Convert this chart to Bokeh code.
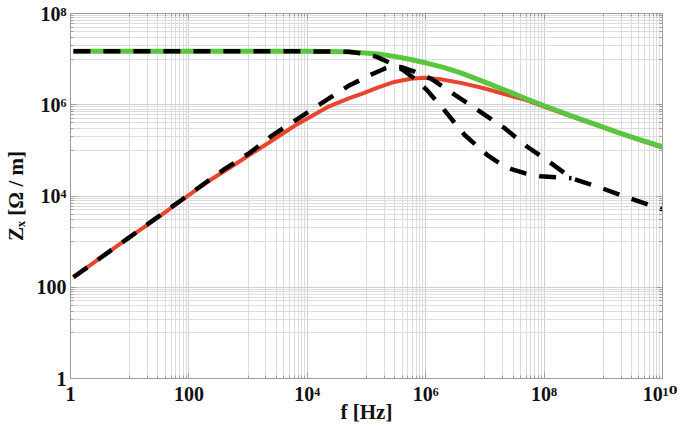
import math
from bokeh.plotting import figure
from bokeh.models import LogAxis, FixedTicker, Range1d, CustomJSTickFormatter
from bokeh.embed import file_html
from bokeh.resources import INLINE

# ---- data ----
f_green = [1.12, 100, 1e4, 4.0e4, 8.3e4, 1.58e5, 2.95e5, 5.6e5, 1.07e6, 2.0e6, 3.9e6,
           7.4e6, 1.41e7, 2.6e7, 5.0e7, 1.0e8, 2.0e8, 4.0e8, 8.5e8, 1.8e9, 4.0e9, 1.0e10]
z_green = [1.48e7, 1.48e7, 1.48e7, 1.46e7, 1.38e7, 1.29e7, 1.15e7, 9.8e6, 8.1e6, 6.6e6, 5.0e6,
           3.63e6, 2.63e6, 1.91e6, 1.35e6, 9.5e5, 6.8e5, 4.9e5, 3.47e5, 2.45e5, 1.74e5, 1.2e5]

f_red = [1.12, 3.16, 10, 31.6, 70.8, 200, 490, 1000, 2290, 6310, 2.29e4, 5.0e4, 8.3e4,
         1.58e5, 2.95e5, 5.6e5, 9.5e5, 1.78e6, 3.9e6, 7.9e6, 1.41e7, 2.8e7, 5.0e7, 1.0e8,
         2.5e8, 6.3e8, 1.58e9, 4.0e9, 1.0e10]
z_red = [166, 437, 1259, 3548, 7586, 2.0e4, 4.17e4, 7.59e4, 1.51e5, 3.55e5, 9.12e5, 1.38e6,
         1.74e6, 2.4e6, 3.16e6, 3.72e6, 3.89e6, 3.63e6, 3.02e6, 2.45e6, 2.0e6, 1.55e6, 1.26e6,
         9.1e5, 5.9e5, 3.9e5, 2.57e5, 1.7e5, 1.15e5]

f_dash_a = [1.12, 100, 1e4, 5.0e4, 1.0e5, 1.48e5, 2.5e5, 4.3e5, 7.1e5, 1.05e6, 2.2e6, 4.6e6,
            1.1e7, 1.78e7, 2.8e7, 5.0e7, 8.7e7, 1.58e8, 2.9e8]
z_dash_a = [1.48e7, 1.48e7, 1.48e7, 1.45e7, 1.29e7, 1.12e7, 8.3e6, 5.6e6, 3.39e6, 2.09e6,
            6.9e5, 2.14e5, 7.9e4, 5.2e4, 3.9e4, 3.1e4, 2.7e4, 2.57e4, 2.45e4]

f_dash_b = [1.12, 10, 70.8, 200, 380, 1050, 2570, 6310, 1.78e4, 4.9e4, 1.29e5, 2.0e5, 2.8e5,
            4.0e5, 6.3e5, 1.23e6, 3.16e6, 8.3e6, 2.19e7, 5.2e7, 1.38e8, 2.9e8, 9.1e8, 2.4e9,
            7.6e9, 1.0e10]
z_dash_b = [166, 1259, 7762, 2.04e4, 3.72e4, 8.7e4, 2.14e5, 4.57e5, 1.1e6, 2.57e6, 4.79e6,
            6.17e6, 6.92e6, 6.61e6, 5.37e6, 3.72e6, 1.62e6, 7.1e5, 3.02e5, 1.2e5, 5.0e4,
            2.45e4, 1.51e4, 9.5e3, 5.75e3, 5.1e3]

x_ticks = [1, 100, 1e4, 1e6, 1e8, 1e10]
x_tick_labels = ["1", "100", "10\u2074", "10\u2076", "10\u2078", "10\u00b9\u2070"]
y_ticks = [1, 100, 1e4, 1e6, 1e8]
y_tick_labels = ["1", "100", "10\u2074", "10\u2076", "10\u2078"]

x_minor = [m * 10.0 ** (2 * k) for k in range(5) for m in range(10, 100, 10)]
y_minor = [m * 10.0 ** (2 * k) for k in range(4) for m in range(10, 100, 10)]

FONT = "Liberation Serif, DejaVu Serif"
AXIS_COLOR = "#9c9c9c"
TEXT_COLOR = "#111111"

p = figure(width=677, height=426, x_axis_type="log", y_axis_type="log",
           x_range=Range1d(1, 1e10), y_range=Range1d(1, 1e8),
           output_backend="svg", toolbar_location=None,
           min_border_left=66, min_border_right=15, min_border_top=13, min_border_bottom=48)
p.outline_line_color = None
p.background_fill_color = "white"
p.border_fill_color = "white"

LABEL_JS = """
const e = Math.round(Math.log10(tick));
const i = exps.indexOf(e);
return i >= 0 ? labs[i] : "";
"""


def style_axis(ax, ticks, minor, labels, show_labels):
    ax.ticker = FixedTicker(ticks=ticks, minor_ticks=minor)
    ax.axis_line_color = AXIS_COLOR
    ax.major_tick_line_color = AXIS_COLOR
    ax.minor_tick_line_color = AXIS_COLOR
    ax.major_tick_in = 6
    ax.major_tick_out = 0
    ax.minor_tick_in = 3
    ax.minor_tick_out = 0
    if show_labels:
        exps = [round(math.log10(t)) for t in ticks]
        ax.formatter = CustomJSTickFormatter(args=dict(exps=exps, labs=labels), code=LABEL_JS)
        ax.major_label_text_font = FONT
        ax.major_label_text_font_style = "bold"
        ax.major_label_text_font_size = "20px"
        ax.major_label_text_color = TEXT_COLOR
        ax.major_label_standoff = 4
    else:
        ax.formatter = CustomJSTickFormatter(code="return '';")
        ax.major_label_text_font_size = "2px"
        ax.major_label_text_color = None
        ax.major_label_standoff = 0


xax = p.xaxis[0]
yax = p.yaxis[0]
style_axis(xax, x_ticks, x_minor, x_tick_labels, True)
style_axis(yax, y_ticks, y_minor, y_tick_labels, True)

xax.axis_label = "f [Hz]"
yax.axis_label = "Z\u2093 [\u03a9 / m]"
for ax in (xax, yax):
    ax.axis_label_text_font = FONT
    ax.axis_label_text_font_style = "bold"
    ax.axis_label_text_font_size = "21px"
    ax.axis_label_text_color = TEXT_COLOR
xax.axis_label_standoff = -8
yax.axis_label_standoff = 6

top_ax = LogAxis()
style_axis(top_ax, x_ticks, x_minor, x_tick_labels, False)
right_ax = LogAxis()
style_axis(right_ax, y_ticks, y_minor, y_tick_labels, False)
p.add_layout(top_ax, "above")
p.add_layout(right_ax, "right")

p.xgrid.ticker = FixedTicker(ticks=x_ticks, minor_ticks=x_minor)
p.ygrid.ticker = FixedTicker(ticks=y_ticks, minor_ticks=y_minor)
p.xgrid.grid_line_color = "#cfcfcf"
p.ygrid.grid_line_color = "#cfcfcf"
p.xgrid.minor_grid_line_color = "#dcdcdc"
p.ygrid.minor_grid_line_color = "#dcdcdc"

p.line(f_red, z_red, line_color="#e8452c", line_width=4)
p.line(f_green, z_green, line_color="#5ac53e", line_width=5)
p.line(f_dash_a, z_dash_a, line_color="black", line_width=4.5, line_dash="17 13", line_cap="butt")
p.line(f_dash_b, z_dash_b, line_color="black", line_width=4.5, line_dash="17 13", line_cap="butt")

open("out.html", "w").write(file_html(p, INLINE))
